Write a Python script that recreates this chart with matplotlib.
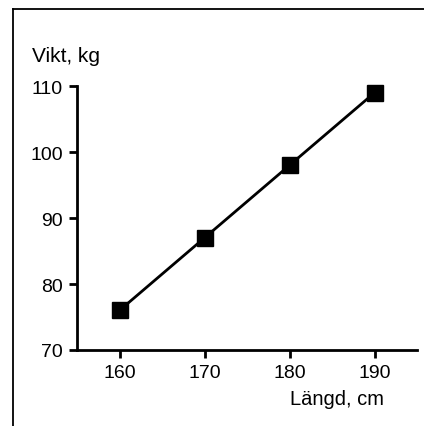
import matplotlib
matplotlib.use('Agg')
import matplotlib.pyplot as plt
from matplotlib.lines import Line2D

plt.rcParams['font.family'] = ['Liberation Sans', 'DejaVu Sans']

langd = [160, 170, 180, 190]
vikt = [76, 87, 98, 109]
xticks = [160, 170, 180, 190]
yticks = [70, 80, 90, 100, 110]

fig = plt.figure(figsize=(4.24, 4.27), dpi=100)

# cropped frame round the figure (top and left edge only)
fig.add_artist(Line2D([0.031, 1.0], [0.977, 0.977], color='black', lw=1.3, transform=fig.transFigure))
fig.add_artist(Line2D([0.031, 0.031], [0.0, 0.977], color='black', lw=1.3, transform=fig.transFigure))

ax = fig.add_axes([0.1816, 0.178, 0.802, 0.618])
ax.plot(langd, vikt, color='black', lw=2, marker='s', markersize=12, clip_on=False)
ax.set_xlim(155, 195)
ax.set_ylim(70, 110)
ax.set_xticks(xticks)
ax.set_yticks(yticks)
for s in ['top', 'right']:
    ax.spines[s].set_visible(False)
for s in ['left', 'bottom']:
    ax.spines[s].set_linewidth(2)
ax.tick_params(direction='out', length=5.5, width=2, labelsize=14, pad=4.5)

fig.text(0.076, 0.855, 'Vikt, kg', fontsize=15, ha='left', va='baseline')
fig.text(0.906, 0.0515, 'Längd, cm', fontsize=14.5, ha='right', va='baseline')

fig.savefig('out.png', dpi=100)
